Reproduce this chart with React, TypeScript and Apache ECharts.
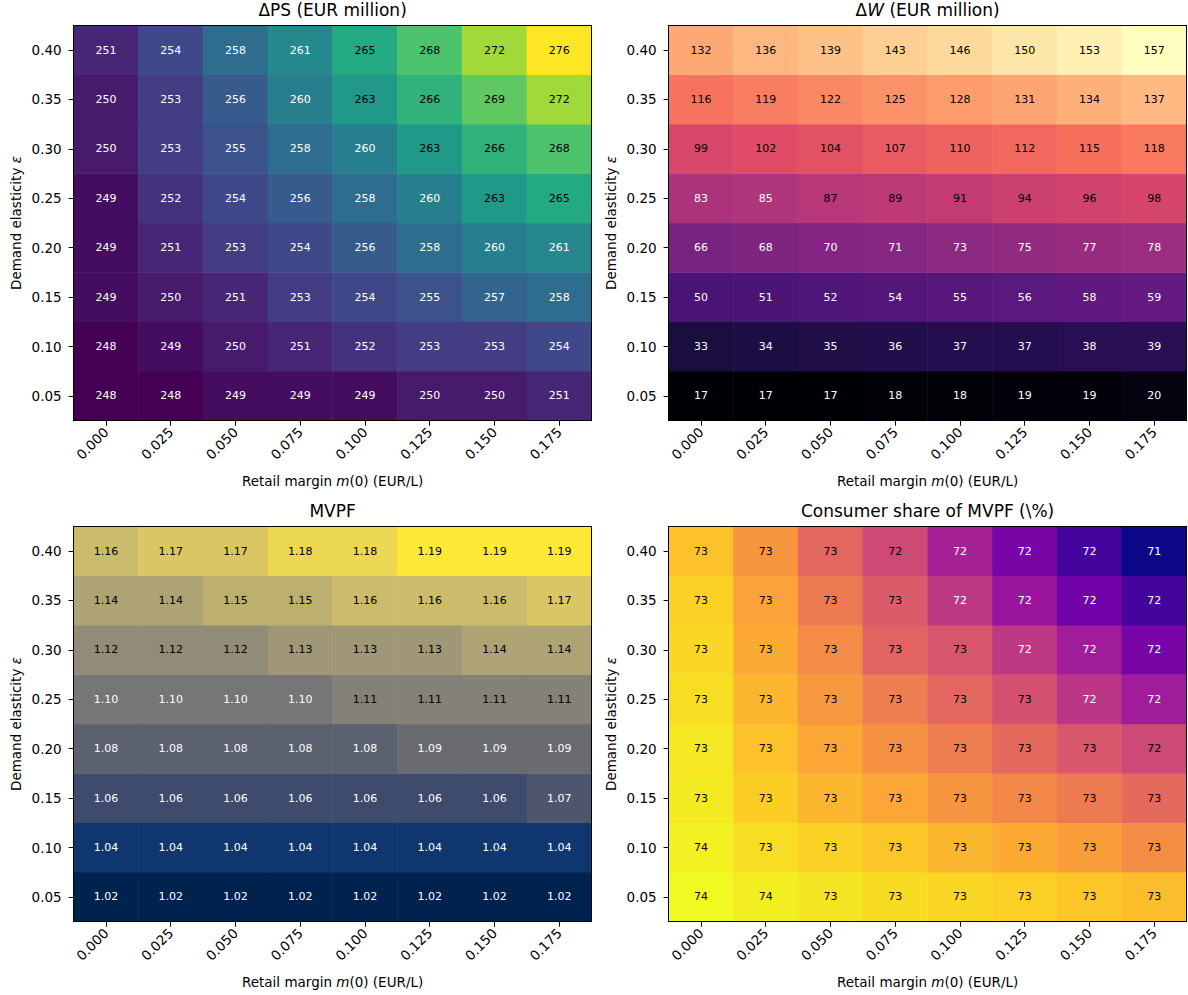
import React, { useEffect, useRef } from "react";
import * as echarts from "echarts";

// Retail margin m(0) in EUR/L (columns) and demand elasticity (rows, bottom to top)
const margins = ["0.000", "0.025", "0.050", "0.075", "0.100", "0.125", "0.150", "0.175"];
const elasticities = ["0.05", "0.10", "0.15", "0.20", "0.25", "0.30", "0.35", "0.40"];

// Each table: one row per elasticity (0.05 first), one column per margin
const deltaPS = [
  [248, 248, 249, 249, 249, 250, 250, 251],
  [248, 249, 250, 251, 252, 253, 253, 254],
  [249, 250, 251, 253, 254, 255, 257, 258],
  [249, 251, 253, 254, 256, 258, 260, 261],
  [249, 252, 254, 256, 258, 260, 263, 265],
  [250, 253, 255, 258, 260, 263, 266, 268],
  [250, 253, 256, 260, 263, 266, 269, 272],
  [251, 254, 258, 261, 265, 268, 272, 276],
];

const deltaW = [
  [17, 17, 17, 18, 18, 19, 19, 20],
  [33, 34, 35, 36, 37, 37, 38, 39],
  [50, 51, 52, 54, 55, 56, 58, 59],
  [66, 68, 70, 71, 73, 75, 77, 78],
  [83, 85, 87, 89, 91, 94, 96, 98],
  [99, 102, 104, 107, 110, 112, 115, 118],
  [116, 119, 122, 125, 128, 131, 134, 137],
  [132, 136, 139, 143, 146, 150, 153, 157],
];

const mvpf = [
  [1.02, 1.02, 1.02, 1.02, 1.02, 1.02, 1.02, 1.02],
  [1.04, 1.04, 1.04, 1.04, 1.04, 1.04, 1.04, 1.04],
  [1.06, 1.06, 1.06, 1.06, 1.06, 1.06, 1.06, 1.07],
  [1.08, 1.08, 1.08, 1.08, 1.08, 1.09, 1.09, 1.09],
  [1.10, 1.10, 1.10, 1.10, 1.11, 1.11, 1.11, 1.11],
  [1.12, 1.12, 1.12, 1.13, 1.13, 1.13, 1.14, 1.14],
  [1.14, 1.14, 1.15, 1.15, 1.16, 1.16, 1.16, 1.17],
  [1.16, 1.17, 1.17, 1.18, 1.18, 1.19, 1.19, 1.19],
];

const consumerShare = [
  [73.57, 73.51, 73.47, 73.42, 73.39, 73.35, 73.30, 73.25],
  [73.53, 73.43, 73.36, 73.30, 73.21, 73.14, 73.07, 72.96],
  [73.49, 73.34, 73.21, 73.12, 73.01, 72.92, 72.83, 72.71],
  [73.48, 73.27, 73.12, 72.98, 72.85, 72.71, 72.58, 72.46],
  [73.43, 73.21, 73.03, 72.85, 72.69, 72.53, 72.31, 72.11],
  [73.39, 73.14, 72.94, 72.67, 72.56, 72.33, 72.11, 71.86],
  [73.36, 73.10, 72.83, 72.60, 72.33, 72.06, 71.81, 71.57],
  [73.27, 73.01, 72.69, 72.47, 72.15, 71.86, 71.57, 71.32],
];

// Colormap stops (evenly spaced from 0 to 1)
const VIRIDIS = ["#440154", "#482475", "#414487", "#355f8d", "#2a788e", "#21918c", "#22a884", "#44bf70", "#7ad151", "#bddf26", "#fde725"];
const MAGMA = ["#000004", "#140e36", "#3b0f70", "#641a80", "#8c2981", "#b73779", "#de4968", "#f7705c", "#fe9f6d", "#fecf92", "#fcfdbf"];
const CIVIDIS = ["#00224e", "#083370", "#35456c", "#4f576c", "#666970", "#7d7c78", "#948e77", "#aca273", "#c5b66d", "#dfcb61", "#fee838"];
const PLASMA = ["#0d0887", "#41049d", "#6a00a8", "#8f0da4", "#b12a90", "#cc4778", "#e16462", "#f2844b", "#fca636", "#fcce25", "#f0f921"];

const FONT = "'DejaVu Sans', 'Noto Sans', sans-serif";
const TEXT = "#000000";

type Panel = {
  title: string;
  rows: number[][];
  colors: string[];
  digits: number;
  col: number;
  row: number;
};

const panels: Panel[] = [
  { title: "ΔPS (EUR million)", rows: deltaPS, colors: VIRIDIS, digits: 0, col: 0, row: 0 },
  { title: "Δ{i|W} (EUR million)", rows: deltaW, colors: MAGMA, digits: 0, col: 1, row: 0 },
  { title: "MVPF", rows: mvpf, colors: CIVIDIS, digits: 2, col: 0, row: 1 },
  { title: "Consumer share of MVPF (\\%)", rows: consumerShare, colors: PLASMA, digits: 0, col: 1, row: 1 },
];

const GRID_LEFT = [73.6, 668.6];
const GRID_TOP = [25.3, 526.3];
const GRID_W = 518;
const GRID_H = 395.4;

function italicRich(size: number) {
  return { i: { fontStyle: "italic", fontFamily: FONT, fontSize: size, color: TEXT } };
}

function buildOption() {
  const titles: any[] = [];
  const grids: any[] = [];
  const xAxes: any[] = [];
  const yAxes: any[] = [];
  const visualMaps: any[] = [];
  const series: any[] = [];

  panels.forEach((p, i) => {
    const left = GRID_LEFT[p.col];
    const top = GRID_TOP[p.row];
    const flat = p.rows.flat();
    const min = Math.min(...flat);
    const max = Math.max(...flat);

    titles.push({
      text: p.title,
      left: left + GRID_W / 2,
      top: top - 24,
      textAlign: "center",
      padding: 0,
      textStyle: {
        fontFamily: FONT,
        fontSize: 17,
        fontWeight: "normal",
        color: TEXT,
        rich: italicRich(17),
      },
    });

    grids.push({ left, top, width: GRID_W, height: GRID_H, containLabel: false });

    xAxes.push({
      type: "category",
      gridIndex: i,
      data: margins,
      position: "bottom",
      z: 5,
      name: "Retail margin {i|m}(0) (EUR/L)",
      nameLocation: "middle",
      nameGap: 53,
      nameTextStyle: { fontFamily: FONT, fontSize: 13.5, color: TEXT, rich: italicRich(13.5) },
      axisLine: { show: true, onZero: false, lineStyle: { color: "#000", width: 1 } },
      axisTick: { show: true, alignWithLabel: true, length: 5, lineStyle: { color: "#000", width: 1 } },
      axisLabel: { rotate: 45, interval: 0, margin: 9, fontFamily: FONT, fontSize: 13.5, color: TEXT },
      splitLine: { show: false },
      splitArea: { show: false },
    });

    yAxes.push({
      type: "category",
      gridIndex: i,
      data: elasticities,
      position: "left",
      z: 5,
      name: "Demand elasticity {i|ε}",
      nameLocation: "middle",
      nameGap: 51,
      nameTextStyle: { fontFamily: FONT, fontSize: 13.5, color: TEXT, rich: italicRich(13.5) },
      axisLine: { show: true, onZero: false, lineStyle: { color: "#000", width: 1 } },
      axisTick: { show: true, alignWithLabel: true, length: 5, lineStyle: { color: "#000", width: 1 } },
      axisLabel: { interval: 0, margin: 12, fontFamily: FONT, fontSize: 13.5, color: TEXT },
      splitLine: { show: false },
      splitArea: { show: false },
    });

    visualMaps.push({
      type: "continuous",
      show: false,
      seriesIndex: i,
      dimension: 2,
      min,
      max,
      inRange: { color: p.colors },
    });

    const data: any[] = [];
    p.rows.forEach((rowVals, yi) => {
      rowVals.forEach((v, xi) => {
        const t = max > min ? (v - min) / (max - min) : 0;
        data.push({ value: [xi, yi, v], label: { color: t < 0.5 ? "#ffffff" : "#000000" } });
      });
    });

    const digits = p.digits;
    series.push({
      type: "heatmap",
      xAxisIndex: i,
      yAxisIndex: i,
      data,
      label: {
        show: true,
        fontFamily: FONT,
        fontSize: 11,
        formatter: (params: any) => {
          const v = params.value[2] as number;
          return digits > 0 ? v.toFixed(digits) : String(Math.round(v));
        },
      },
      itemStyle: { borderWidth: 0 },
      emphasis: { disabled: true },
      progressive: 0,
    });
  });

  // Frame: top and right edges of every panel
  panels.forEach((_, i) => {
    xAxes.push({
      type: "category",
      gridIndex: i,
      data: margins,
      position: "top",
      z: 5,
      axisLine: { show: true, onZero: false, lineStyle: { color: "#000", width: 1 } },
      axisTick: { show: false },
      axisLabel: { show: false },
      splitLine: { show: false },
    });
    yAxes.push({
      type: "category",
      gridIndex: i,
      data: elasticities,
      position: "right",
      z: 5,
      axisLine: { show: true, onZero: false, lineStyle: { color: "#000", width: 1 } },
      axisTick: { show: false },
      axisLabel: { show: false },
      splitLine: { show: false },
    });
  });

  return {
    animation: false,
    backgroundColor: "#ffffff",
    title: titles,
    grid: grids,
    xAxis: xAxes,
    yAxis: yAxes,
    visualMap: visualMaps,
    series,
  };
}

export default function App() {
  const ref = useRef<HTMLDivElement>(null);

  useEffect(() => {
    if (!ref.current) return;
    const chart = echarts.init(ref.current, undefined, { renderer: "svg" });
    chart.setOption(buildOption());
    return () => chart.dispose();
  }, []);

  return (
    <div
      ref={ref}
      style={{ position: "absolute", left: 0, top: 0, width: 1188, height: 995, background: "#fff" }}
    />
  );
}
